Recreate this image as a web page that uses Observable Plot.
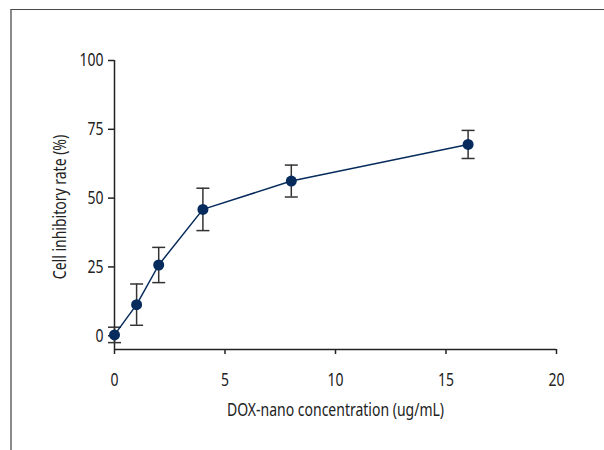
<!DOCTYPE html>
<html>
<head>
<meta charset="utf-8">
<script src="https://cdn.jsdelivr.net/npm/d3@7"></script>
<script src="https://cdn.jsdelivr.net/npm/@observablehq/plot@0.6"></script>
<style>
  html, body { margin: 0; padding: 0; background: #fff; }
  #wrap { position: relative; width: 604px; height: 450px; overflow: hidden; background: #fff; }
  #frame { position: absolute; left: 10px; top: 9px; width: 620px; height: 460px;
           border-top: 1.5px solid #4a4a4a; border-left: 2px solid #8a8a8a; }
  #chart { position: absolute; left: 0; top: 0; }
</style>
</head>
<body>
<div id="wrap"><div id="frame"></div><div id="chart"></div></div>
<script>
// Data
const concentration = [0, 1, 2, 4, 8, 16];          // DOX-nano concentration (ug/mL)
const inhibitoryRate = [0.3, 11.3, 25.7, 45.9, 56.2, 69.5]; // Cell inhibitory rate (%)
const errorSD = [2.8, 7.5, 6.4, 7.7, 5.8, 5.1];
const xTicks = [0, 5, 10, 15, 20];
const yTicks = [0, 25, 50, 75, 100];
const xTitle = "DOX-nano concentration (ug/mL)";
const yTitle = "Cell inhibitory rate (%)";

const data = concentration.map((c, i) => ({x: c, y: inhibitoryRate[i], e: errorSD[i]}));

const navy = "#062b5c";
const axisColor = "#222";
const fontFamily = "'Noto Sans', 'DejaVu Sans', sans-serif";
const capSymbol = {
  draw(ctx, size) {
    const r = Math.sqrt(size / Math.PI);
    ctx.moveTo(-r, 0);
    ctx.lineTo(r, 0);
  }
};

const chart = Plot.plot({
  width: 604,
  height: 450,
  marginLeft: 114,
  marginRight: 48,
  marginTop: 60,
  marginBottom: 101,
  style: {fontFamily: fontFamily, fontSize: "18px", color: "#222", background: "transparent"},
  x: {domain: [0, 20], ticks: xTicks},
  y: {domain: [-5, 100], ticks: yTicks},
  marks: [
    Plot.ruleX([0], {stroke: axisColor, strokeWidth: 1.5}),
    Plot.ruleY([-5], {stroke: axisColor, strokeWidth: 1.5}),
    Plot.axisX({ticks: xTicks, tickSize: 5, tickPadding: 19, fontSize: 18, label: null, stroke: axisColor, strokeWidth: 1.5, fill: "#222"}),
    Plot.axisY({ticks: yTicks, tickSize: 6, tickPadding: 5, fontSize: 18, label: null, stroke: axisColor, strokeWidth: 1.5, fill: "#222"}),
    Plot.text([xTitle], {frameAnchor: "bottom", dy: 61, lineAnchor: "middle", fontSize: 18, fill: "#222"}),
    Plot.text([yTitle], {frameAnchor: "left", dx: -54, dy: 2, rotate: -90, lineAnchor: "middle", textAnchor: "middle", fontSize: 18, fill: "#222"}),
    Plot.ruleX(data, {x: "x", y1: d => d.y - d.e, y2: d => d.y + d.e, stroke: "#333", strokeWidth: 1.5}),
    Plot.dot(data, {x: "x", y: d => d.y + d.e, symbol: capSymbol, r: 6.5, stroke: "#333", strokeWidth: 1.5, fill: "none"}),
    Plot.dot(data, {x: "x", y: d => d.y - d.e, symbol: capSymbol, r: 6.5, stroke: "#333", strokeWidth: 1.5, fill: "none"}),
    Plot.line(data, {x: "x", y: "y", stroke: navy, strokeWidth: 1.5}),
    Plot.dot(data, {x: "x", y: "y", r: 5.5, fill: navy, stroke: "none"})
  ]
});
document.getElementById("chart").appendChild(chart);

// Condense all text horizontally to mimic the reference's condensed typeface
const texts = Array.from(chart.querySelectorAll("text"));
let titleEl = texts.find(t => t.textContent === xTitle);
const targetTitleWidth = 217;
const k = titleEl ? targetTitleWidth / titleEl.getComputedTextLength() : 0.8;
texts.forEach(t => {
  const len = t.getComputedTextLength();
  if (len > 0) {
    t.setAttribute("textLength", (len * k).toFixed(2));
    t.setAttribute("lengthAdjust", "spacingAndGlyphs");
  }
});
</script>
</body>
</html>
